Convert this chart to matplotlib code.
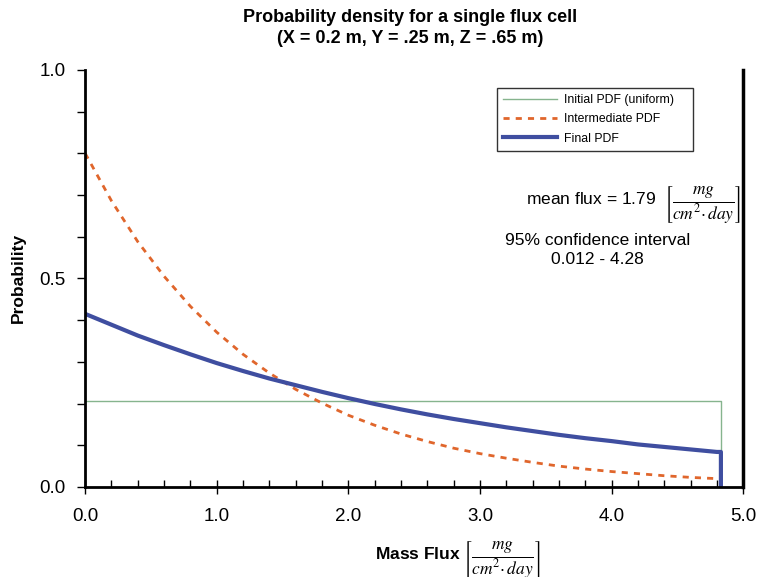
import numpy as np
import matplotlib
matplotlib.use('Agg')
import matplotlib.pyplot as plt
from matplotlib.ticker import MultipleLocator

plt.rcParams['font.family'] = ['Liberation Sans', 'DejaVu Sans']
plt.rcParams['mathtext.fontset'] = 'stix'

# values
flux = [0.0, 0.2, 0.4, 0.6, 0.8, 1.0, 1.2, 1.4, 1.6, 1.8, 2.0, 2.2, 2.4,
        2.6, 2.8, 3.0, 3.2, 3.4, 3.6, 3.8, 4.0, 4.2, 4.4, 4.6, 4.8]
intermediate_pdf = [0.800, 0.686, 0.588, 0.505, 0.433, 0.371, 0.318, 0.273,
                    0.234, 0.201, 0.172, 0.148, 0.127, 0.109, 0.093, 0.080,
                    0.069, 0.059, 0.050, 0.043, 0.037, 0.032, 0.027, 0.023,
                    0.020]
final_pdf = [0.415, 0.389, 0.363, 0.340, 0.318, 0.297, 0.278, 0.260, 0.244,
             0.228, 0.213, 0.199, 0.186, 0.174, 0.163, 0.153, 0.143, 0.134,
             0.125, 0.117, 0.110, 0.102, 0.096, 0.090, 0.084]
flux_max = 4.83
uniform_level = 0.207
final_end = 0.084

unit = r'$\left[\dfrac{mg}{cm^2{\cdot}\,day}\right]$'

fig = plt.figure(figsize=(7.6, 5.77), dpi=100)
ax = fig.add_axes([0.112, 0.156, 0.866, 0.723])

# initial (uniform)
ax.plot([0, flux_max, flux_max], [uniform_level, uniform_level, 0],
        color='#86b48e', lw=1.0, label='Initial PDF (uniform)')
ax.plot(flux, intermediate_pdf, color='#e0662c', lw=2.0, ls=(0, (2.2, 2.2)),
        label='Intermediate PDF')
ax.plot(flux + [flux_max, flux_max], final_pdf + [final_end, 0],
        color='#3f4ea0', lw=3.0, label='Final PDF')

ax.set_xlim(0, 5)
ax.set_ylim(0, 1)
ax.xaxis.set_major_locator(MultipleLocator(1.0))
ax.xaxis.set_minor_locator(MultipleLocator(0.2))
ax.yaxis.set_major_locator(MultipleLocator(0.5))
ax.yaxis.set_minor_locator(MultipleLocator(0.1))
ax.xaxis.set_major_formatter(plt.FormatStrFormatter('%.1f'))
ax.yaxis.set_major_formatter(plt.FormatStrFormatter('%.1f'))
ax.tick_params(axis='x', which='major', direction='inout', length=10,
               width=1, labelsize=13.5, pad=10)
ax.tick_params(axis='x', which='minor', direction='in', length=5, width=1)
ax.tick_params(axis='y', which='both', direction='out', length=6,
               width=1, labelsize=13.5, pad=8)

ax.spines['top'].set_visible(False)
ax.spines['left'].set_linewidth(2)
ax.spines['bottom'].set_linewidth(2)
ax.spines['right'].set_linewidth(2.5)

ax.set_ylabel('Probability', fontsize=12.5, fontweight='bold')
ax.yaxis.set_label_coords(-0.09, 0.5)
ax.set_xlabel('Mass Flux ' + unit, fontsize=12.5, fontweight='bold')
ax.xaxis.set_label_coords(0.566, -0.125)

fig.text(0.54, 0.952, 'Probability density for a single flux cell\n'
         '(X = 0.2 m, Y = .25 m, Z = .65 m)', ha='center', va='center',
         fontsize=13, fontweight='bold', linespacing=1.3)

ax.text(0.997, 0.676, 'mean flux = 1.79  ' + unit, transform=ax.transAxes,
        ha='right', va='baseline', fontsize=12.5)
ax.text(0.778, 0.568, '95% confidence interval\n0.012 - 4.28',
        transform=ax.transAxes, ha='center', va='center', fontsize=12.5,
        linespacing=1.3)

leg = ax.legend(loc='upper left', bbox_to_anchor=(0.626, 0.808, 0.298, 0.149),
                mode='expand', fontsize=8.8, frameon=True, fancybox=False,
                edgecolor='black', handlelength=4.4, labelspacing=0.6,
                borderpad=0.5, handletextpad=0.6, borderaxespad=0)
leg.get_frame().set_linewidth(1.0)

plt.savefig('out.png', dpi=100)
